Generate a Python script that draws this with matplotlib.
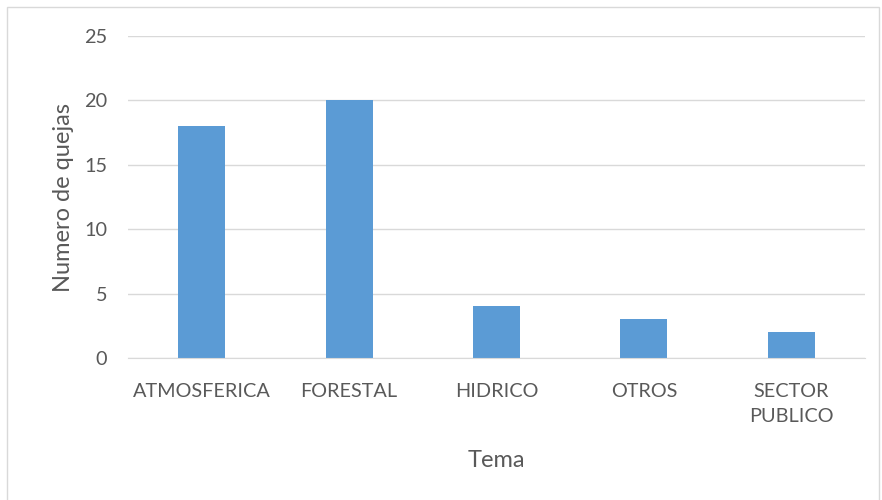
import matplotlib.pyplot as plt
from matplotlib.patches import Rectangle

# Data
temas = ['ATMOSFERICA', 'FORESTAL', 'HIDRICO', 'OTROS', 'SECTOR\nPUBLICO']
quejas = [18, 20, 4, 3, 2]
yticks = [0, 5, 10, 15, 20, 25]

BAR_COLOR = '#5B9BD5'
TEXT_COLOR = '#595959'
GRID_COLOR = '#D9D9D9'

plt.rcParams['font.family'] = ['Lato', 'DejaVu Sans']

fig = plt.figure(figsize=(8.82, 5.0), dpi=100)
ax = fig.add_axes([128 / 882, 1 - 358 / 500, 737 / 882, 322 / 500])

x = range(len(temas))
ax.bar(x, quejas, width=0.32, color=BAR_COLOR, zorder=3)

ax.set_xlim(-0.5, len(temas) - 0.5)
ax.set_ylim(0, 25)
ax.set_yticks(yticks)
ax.set_xticks(list(x))
ax.set_xticklabels(temas, linespacing=1.6, va='top')
ax.tick_params(axis='both', length=0, colors=TEXT_COLOR, labelsize=14.3)
ax.tick_params(axis='x', pad=18)
ax.tick_params(axis='y', pad=15)

ax.grid(axis='y', color=GRID_COLOR, linewidth=1, zorder=0)
for side in ['top', 'right', 'left']:
    ax.spines[side].set_visible(False)
ax.spines['bottom'].set_color(GRID_COLOR)
ax.spines['bottom'].set_zorder(4)

ax.set_ylabel('Numero de quejas', color=TEXT_COLOR, fontsize=17, labelpad=7)
ax.set_xlabel('Tema', color=TEXT_COLOR, fontsize=17, labelpad=18)

# chart border (partially cropped in the reference)
fig.patches.append(Rectangle((7 / 882, -0.05), 872 / 882, 1 - 7 / 500 + 0.05,
                             transform=fig.transFigure, fill=False,
                             edgecolor=GRID_COLOR, linewidth=1))

fig.savefig('out.png', dpi=100)
